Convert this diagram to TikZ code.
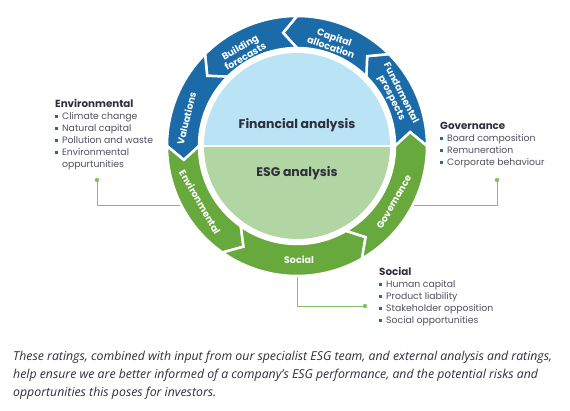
\documentclass[tikz,border=0pt]{standalone}
\usepackage{fontspec}
\setmainfont{Poppins}
\newfontfamily\capfont{Open Sans}
\definecolor{segblue}{HTML}{1B6BA8}
\definecolor{seggreen}{HTML}{68A93D}
\definecolor{finblue}{HTML}{BAE3F6}
\definecolor{esggreen}{HTML}{B1D6A3}
\definecolor{linkgreen}{HTML}{86C064}
\definecolor{titlegray}{HTML}{2E2E3C}
\definecolor{listgray}{HTML}{50505E}
\newcommand\listbullet{\makebox[7pt][l]{\textcolor{segblue}{\rule[1.8pt]{2.3pt}{2.3pt}}}}
\newcommand\listskip{\makebox[7pt]{}}
\newcommand\listtitle[1]{{\color{titlegray}\fontsize{10.3}{13}\selectfont\bfseries #1}}
\tikzset{
  seglabel/.style={text=white, font=\fontsize{9.5}{10.5}\selectfont\bfseries, align=center, inner sep=0pt},
  centertext/.style={text=titlegray, font=\fontsize{12.5}{14}\selectfont\bfseries, inner sep=0pt},
  listblock/.style={anchor=north west, align=left, inner sep=0pt, text=listgray, font=\fontsize{9.3}{12}\selectfont},
  linkline/.style={draw=linkgreen, line width=0.8pt},
}
\begin{document}
\begin{tikzpicture}[x=1pt, y=1pt]
\useasboundingbox (0,0) rectangle (570,-411);
% links from the lists to the ring
\coordinate (envdot) at (97,-180);
\coordinate (envring) at (184,-205);
\coordinate (govdot) at (497,-180);
\coordinate (govring) at (410,-205);
\coordinate (socring) at (297,-272);
\coordinate (socdot) at (365,-306);
\draw[linkline] (envdot) |- (envring);
\draw[linkline] (govdot) |- (govring);
\draw[linkline] (socring) |- (socdot);
\foreach \d in {envdot,govdot,socdot}
  \fill[linkgreen] (\d) circle (2.2pt);
% ring of arrows and inner circle
\begin{scope}[shift={(297,-146)}]
\fill[finblue] (0:93pt) arc[start angle=0, end angle=180, radius=93pt] -- cycle;
\fill[esggreen] (180:93pt) arc[start angle=180, end angle=360, radius=93pt] -- cycle;
\draw[white, line width=2.5pt] (180:95pt) -- (0:95pt);
\foreach \a/\b/\c in {0/45/segblue, 45/90/segblue, 90/135/segblue, 135/180/segblue,
                      180/235/seggreen, 235/300/seggreen, 300/360/seggreen}
  \filldraw[fill=\c, draw=white, line width=2.5pt, line join=miter]
    (\a:130pt) arc[start angle=\a, end angle=\b, radius=130pt] -- ({\b+7}:114pt) -- (\b:98pt)
    arc[start angle=\b, end angle=\a, radius=98pt] -- ({\a+7}:114pt) -- cycle;
\node[centertext] (fin) at (0pt,21pt) {Financial analysis};
\node[centertext] (esg) at (0pt,-27pt) {ESG analysis};
\node[seglabel, rotate=-63] (fund) at (27:111pt) {Fundamental\\prospects};
\node[seglabel, rotate=-19] (capital) at (71:110pt) {Capital\\allocation};
\node[seglabel, rotate=30] (build) at (120:109pt) {Building\\forecasts};
\node[seglabel, rotate=76] (valu) at (166:114pt) {Valuations};
\node[seglabel, rotate=-60] (envlab) at (210:112pt) {Environmental};
\node[seglabel] (soclab) at (271:114pt) {Social};
\node[seglabel, rotate=60] (govlab) at (330:112pt) {Governance};
\end{scope}
% lists
\node[listblock] (envtext) at (55,-99) {\listtitle{Environmental}\\
  \listbullet Climate change\\ \listbullet Natural capital\\ \listbullet Pollution and waste\\
  \listbullet Environmental\\ \listskip oppurtunities};
\node[listblock] (govtext) at (440,-122) {\listtitle{Governance}\\
  \listbullet Board composition\\ \listbullet Remuneration\\ \listbullet Corporate behaviour};
\node[listblock] (soctext) at (379,-267) {\listtitle{Social}\\
  \listbullet Human capital\\ \listbullet Product liability\\ \listbullet Stakeholder opposition\\
  \listbullet Social opportunities};
% caption
\node[anchor=north west, align=left, inner sep=0pt, text=titlegray,
      font=\capfont\itshape\fontsize{12.3}{18}\selectfont] (caption) at (13,-351)
  {These ratings, combined with input from our specialist ESG team, and external analysis and ratings,\\
   help ensure we are better informed of a company’s ESG performance, and the potential risks and\\
   opportunities this poses for investors.};
\end{tikzpicture}
\end{document}
